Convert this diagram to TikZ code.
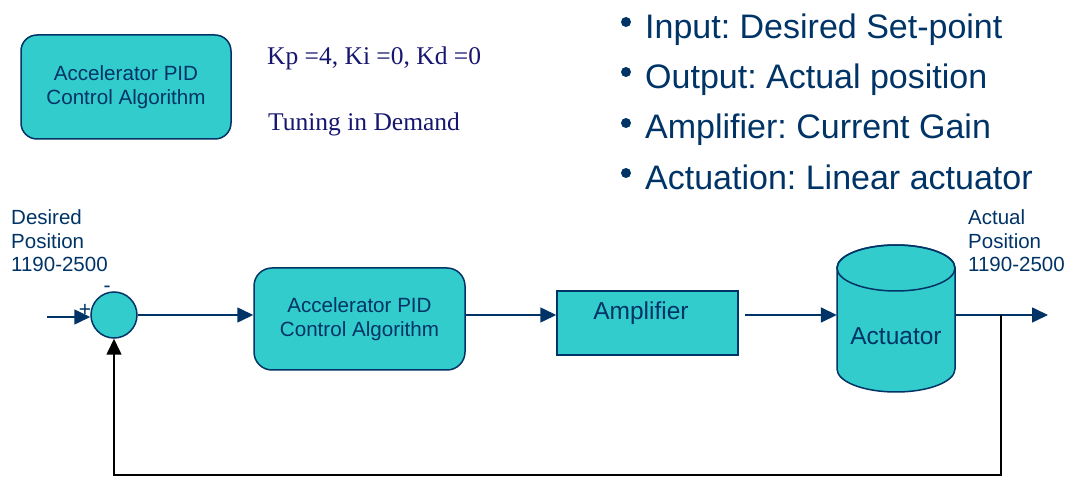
\documentclass[tikz,border=0pt]{standalone}
\usepackage{fontspec}
\setmainfont{Liberation Sans}
\newfontfamily\serifface{Liberation Serif}
\usetikzlibrary{arrows.meta}
\definecolor{navy}{RGB}{0,51,102}
\definecolor{tealfill}{RGB}{51,204,204}
\definecolor{inknavy}{RGB}{22,22,112}
\frenchspacing
\begin{document}
\begin{tikzpicture}[x=1pt,y=-1pt,
  block/.style={draw=navy, fill=tealfill, line width=1.5pt},
  boxtext/.style={text=navy, align=center, font=\fontsize{20.6}{23.5}\selectfont},
  bigtext/.style={text=navy, font=\fontsize{24.5}{28}\selectfont},
  bullettext/.style={text=navy, anchor=base west, inner sep=0, font=\fontsize{34}{40}\selectfont},
  dot/.style={circle, fill=navy, minimum size=10pt, inner sep=0},
  sidelabel/.style={text=navy, anchor=north west, inner sep=0, align=left, font=\fontsize{20.5}{23.5}\selectfont},
  sign/.style={text=navy, inner sep=0, font=\fontsize{21}{22}\selectfont},
  gainstext/.style={text=inknavy, anchor=base west, inner sep=0, font=\serifface\fontsize{25.5}{30}\selectfont},
  flow/.style={draw=navy, line width=1.6pt, -{Triangle[length=16pt,width=15pt]}},
  fb/.style={draw=black, line width=1.6pt, -{Triangle[length=16pt,width=15pt]}}]
\useasboundingbox (0,0) rectangle (1069,478);

% controller block with its tuning values
\node[block, rounded corners=16pt, minimum width=210pt, minimum height=104pt, boxtext] (legend) at (126,87) {Accelerator PID\\Control Algorithm};
\node[gainstext] (gains) at (267,65) {Kp =4, Ki =0, Kd =0};
\node[gainstext] (tuning) at (268,131) {Tuning in Demand};

% bullet list
\node[dot] (d1) at (626,22) {};
\node[bullettext] (b1) at (645,39) {Input: Desired Set-point};
\node[dot] (d2) at (626,72) {};
\node[bullettext] (b2) at (645,89) {Output: Actual position};
\node[dot] (d3) at (626,123) {};
\node[bullettext] (b3) at (645,139) {Amplifier: Current Gain};
\node[dot] (d4) at (626,173) {};
\node[bullettext] (b4) at (645,190) {Actuation: Linear actuator};

% signal labels
\node[sidelabel] (desired) at (11,209.5) {Desired\\Position\\1190-2500};
\node[sidelabel] (actual) at (968,209.5) {Actual\\Position\\1190-2500};

% loop blocks
\node[block, circle, minimum size=46pt, inner sep=0] (sum) at (114,315) {};
\node[sign] (plus) at (85,310) {+};
\node[sign] (minus) at (107,289) {-};
\node[block, rounded corners=18pt, minimum width=211pt, minimum height=102pt, boxtext] (pid) at (359.5,319) {Accelerator PID\\Control Algorithm};
\node[block, minimum width=181pt, minimum height=64pt] (amp) at (647.5,323) {};
\node[bigtext] (amptext) at (641,313) {Amplifier};

% actuator cylinder
\node[minimum width=118pt, minimum height=147pt, inner sep=0] (act) at (896,318.5) {};
\path[block] (837,268) -- (837,369) arc[start angle=180, end angle=0, x radius=59, y radius=23]
  -- (955,268) arc[start angle=0, end angle=-180, x radius=59, y radius=23] -- cycle;
\draw[navy, line width=1.5pt] (896,268) ellipse[x radius=59, y radius=23];
\node[bigtext] (acttext) at (896,336) {Actuator};

% connectors
\coordinate (in) at (47,317);
\coordinate (out) at (1048,315);
\coordinate (tap) at (1001,315);
\path (amp.east |- sum) ++(6,0) coordinate (ampout);
\draw[flow] (in) -- (in -| sum.west);
\draw[flow] (sum) -- (sum -| pid.west);
\draw[flow] (pid.east |- sum) -- (amp.west |- sum);
\draw[flow] (ampout) -- (act.west |- sum);
\draw[flow] (act.east |- sum) -- (out);
\draw[fb] (tap) -- ++(0,160) -| (sum.south);
\end{tikzpicture}
\end{document}
